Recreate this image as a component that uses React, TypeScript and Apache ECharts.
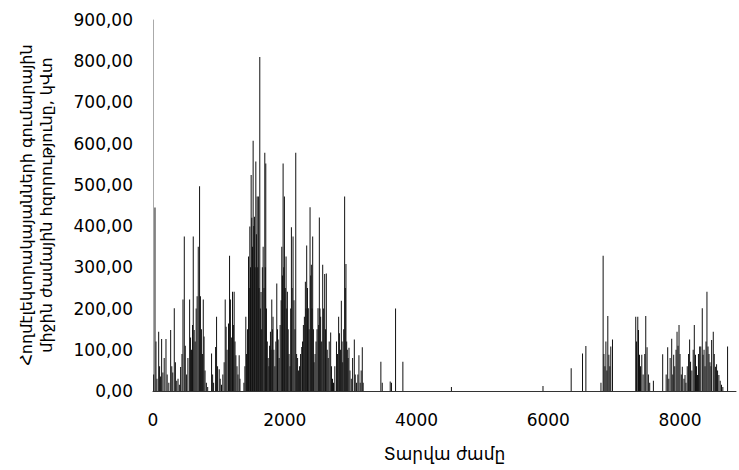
import React, { useEffect, useRef } from "react";
import * as echarts from "echarts";

// Hour of the year (x) of each spike
const hours: number[] = [
  10, 30, 45, 60, 86, 100, 115, 131, 150, 170, 197, 215, 240, 268, 285, 300, 323, 340, 360, 380,
  400, 419, 440, 455, 475, 490, 510, 530, 556, 570, 585, 600, 611, 625, 640, 655, 670, 687, 707, 720,
  735, 750, 763, 775, 790, 810, 830,
  889, 905, 920, 950, 965, 980, 1005, 1020, 1040, 1060, 1080, 1096, 1110, 1125, 1146, 1162, 1175, 1190,
  1207, 1220, 1232, 1245, 1258, 1275, 1290, 1308, 1320,
  1380, 1395, 1409, 1420, 1435, 1450, 1460, 1470, 1480, 1490, 1500, 1510, 1520, 1530, 1540, 1550, 1561,
  1570, 1581, 1590, 1600, 1610, 1621, 1630, 1640, 1650, 1660, 1672, 1685, 1697, 1705, 1712, 1722, 1735,
  1748, 1760, 1770, 1783, 1793, 1803, 1812, 1822, 1835, 1850, 1865, 1879, 1890, 1900, 1915, 1930, 1945,
  1955, 1965, 1975, 1985, 1995, 2008, 2020, 2030, 2040, 2052, 2065, 2080, 2090, 2101, 2112, 2126, 2140,
  2155, 2167, 2180, 2195, 2210, 2225, 2240, 2258, 2270, 2283, 2298, 2313, 2323, 2333, 2345, 2358, 2370,
  2384, 2394, 2404, 2414, 2424, 2435, 2445, 2460, 2475, 2490, 2505, 2515, 2525, 2535, 2545, 2560, 2576,
  2590, 2606, 2618, 2631, 2645, 2660, 2675, 2697, 2710, 2725, 2740, 2760, 2785, 2800, 2818, 2830, 2845,
  2859, 2870, 2880, 2895, 2909, 2919, 2929, 2940, 2950, 2962, 2975, 2990, 3010, 3030, 3056, 3070, 3090,
  3110, 3126, 3145, 3160, 3177, 3190,
  3459, 3480, 3601, 3620, 3682, 3793, 4530, 5920, 6348, 6520, 6571,
  6800, 6833, 6845, 6860, 6875, 6890, 6904, 6920, 6935, 6949, 6975,
  7328, 7340, 7359, 7370, 7385, 7400, 7420, 7440, 7465, 7480, 7500, 7520, 7540, 7596,
  7737, 7790, 7813, 7830, 7850, 7874, 7890, 7904, 7920, 7940, 7955, 7970, 7985, 8000, 8020, 8035, 8060,
  8076, 8090, 8110, 8130, 8146, 8160, 8180, 8200, 8217, 8235, 8250, 8265, 8280, 8298, 8315, 8338, 8350,
  8365, 8380, 8395, 8409, 8425, 8440, 8455, 8470, 8480, 8505, 8520, 8540, 8555, 8570, 8590, 8610, 8630,
  8650, 8722,
];

// Power of each spike, kW
const power: number[] = [
  40, 445, 120, 30, 144, 60, 35, 126, 45, 80, 126, 40, 20, 148, 60, 45, 201, 70, 25, 30,
  15, 58, 90, 222, 375, 110, 40, 80, 222, 130, 100, 160, 375, 148, 120, 200, 230, 350, 497, 230,
  150, 90, 222, 132, 50, 20, 10,
  91, 40, 20, 107, 180, 60, 53, 30, 15, 40, 70, 222, 156, 100, 164, 328, 222, 130,
  241, 160, 241, 120, 87, 60, 40, 87, 30,
  20, 60, 180, 90, 150, 326, 250, 399, 300, 524, 420, 350, 607, 400, 423, 300, 557,
  380, 472, 300, 472, 250, 810, 200, 240, 150, 300, 350, 250, 578, 300, 552, 200, 120,
  80, 60, 110, 144, 100, 222, 150, 180, 100, 60, 120, 261, 150, 125, 80, 160, 220,
  350, 280, 552, 300, 472, 250, 326, 200, 241, 150, 90, 60, 200, 397, 250, 375, 220,
  150, 578, 90, 80, 50, 60, 90, 107, 120, 160, 180, 265, 200, 353, 250, 201, 150,
  446, 280, 306, 200, 375, 150, 70, 90, 120, 150, 201, 160, 421, 200, 180, 120, 306,
  200, 284, 150, 285, 100, 80, 120, 142, 60, 30, 20, 60, 120, 90, 180, 140, 100,
  219, 120, 70, 150, 472, 250, 308, 120, 100, 80, 105, 50, 30, 80, 125, 40, 20,
  40, 87, 20, 50, 106, 20,
  71, 20, 23, 20, 200, 71, 10, 12, 55, 91, 109,
  20, 328, 90, 60, 120, 50, 182, 88, 60, 108, 125,
  180, 120, 180, 148, 88, 60, 88, 40, 90, 182, 106, 40, 20, 25,
  89, 40, 106, 30, 80, 127, 40, 88, 60, 100, 144, 110, 160, 90, 40, 59, 30,
  39, 20, 60, 90, 125, 71, 50, 100, 160, 88, 60, 39, 90, 108, 108, 201, 88,
  100, 60, 120, 241, 108, 90, 70, 60, 124, 144, 90, 59, 65, 50, 39, 25, 15,
  10, 108,
];

const xTicks: number[] = [0, 2000, 4000, 6000, 8000];
const yMax = 900;
const yStep = 100;

const xTitle = "Տարվա ժամը";
const yTitleLines: string[] = [
  "Հողմէլեկտրակայանների գումարային",
  "միջին ժամային հզորությունը, կՎտ",
];

export default function App() {
  const ref = useRef<HTMLDivElement>(null);

  useEffect(() => {
    if (!ref.current) return;
    const chart = echarts.init(ref.current, null, { renderer: "svg" });
    const data = hours.map((h, i) => [h, power[i]]);
    const font = "DejaVu Sans";
    chart.setOption({
      animation: false,
      backgroundColor: "#ffffff",
      grid: { left: 153, right: 2, top: 20, bottom: 79, containLabel: false },
      xAxis: {
        type: "value",
        min: 0,
        max: 8850,
        interval: 2000,
        name: xTitle,
        nameLocation: "middle",
        nameGap: 54,
        nameTextStyle: { fontFamily: font, fontSize: 17, color: "#000" },
        axisLine: { show: true, lineStyle: { color: "#333", width: 1 } },
        axisTick: { show: false },
        splitLine: { show: false },
        axisLabel: {
          margin: 20,
          fontFamily: font,
          fontSize: 17,
          color: "#000",
          formatter: (v: number) => (xTicks.includes(v) ? String(v) : ""),
        },
      },
      yAxis: {
        type: "value",
        min: 0,
        max: yMax,
        interval: yStep,
        axisLine: { show: true, lineStyle: { color: "#aaa", width: 1 } },
        axisTick: { show: false },
        splitLine: { show: false },
        axisLabel: {
          margin: 20,
          fontFamily: font,
          fontSize: 17,
          color: "#000",
          formatter: (v: number) => v.toFixed(2).replace(".", ","),
        },
      },
      graphic: [
        {
          type: "text",
          x: 36,
          y: 205,
          rotation: Math.PI / 2,
          style: {
            text: yTitleLines.join("\n"),
            fontFamily: font,
            fontSize: 16,
            lineHeight: 20,
            fill: "#000",
            textAlign: "center",
            textVerticalAlign: "middle",
          },
        },
      ],
      series: [
        {
          type: "bar",
          data,
          barWidth: 1,
          itemStyle: { color: "#111" },
          silent: true,
        },
      ],
    });
    return () => chart.dispose();
  }, []);

  return (
    <div
      ref={ref}
      style={{ position: "fixed", left: 0, top: 0, width: 739, height: 470 }}
    />
  );
}
